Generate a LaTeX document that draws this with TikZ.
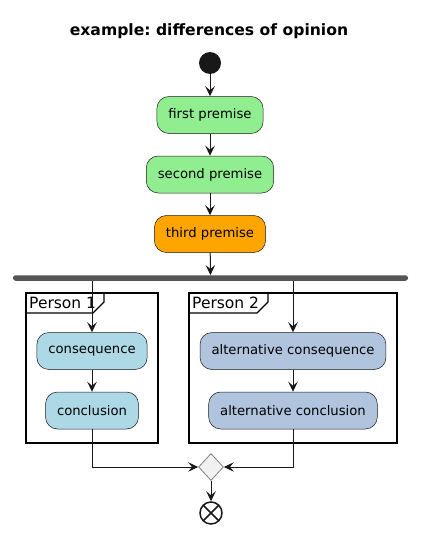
\documentclass[tikz,border=0pt]{standalone}
\usepackage{fontspec}
\setmainfont{DejaVu Sans}
\frenchspacing
\usetikzlibrary{arrows.meta, shapes.geometric}
\definecolor{premgreen}{HTML}{90EE90}
\definecolor{premorange}{HTML}{FFA500}
\definecolor{conblue}{HTML}{ADD8E6}
\definecolor{altsteel}{HTML}{B0C4DE}
\definecolor{linedark}{HTML}{181818}
\definecolor{forkgray}{HTML}{555555}
\definecolor{mergegray}{HTML}{F1F1F1}

\begin{document}
\begin{tikzpicture}[
    x=1pt, y=-1pt,
    act/.style={draw=linedark, line width=0.5pt, rounded corners=12pt,
        minimum height=37pt, inner xsep=11.5pt, font=\fontsize{13.2}{15}\selectfont},
    flow/.style={draw=linedark, line width=1pt, -{Stealth[length=10pt, width=9.5pt, inset=4pt]}},
    frame/.style={draw=black, line width=1.3pt},
    plabel/.style={anchor=west, inner sep=0pt, font=\fontsize{15.5}{18}\selectfont}
]

% 1. Canvas and title
\useasboundingbox (0,0) rectangle (420,535);
\node[font=\bfseries\fontsize{15.6}{18}\selectfont] (title) at (209,31) {example: differences of opinion};

% 2. Start point and the premises
\node[circle, fill=linedark, minimum size=22pt, inner sep=0pt] (start) at (210,63) {};
\node[act, fill=premgreen] (first) at (210,115) {first premise};
\node[act, fill=premgreen] (second) at (210,174.5) {second premise};
\node[act, fill=premorange] (third) at (210,234) {third premise};

% 3. Fork bar
\node[fill=forkgray, rounded corners=2.5pt, minimum width=395pt, minimum height=5.5pt, inner sep=0pt] (bar) at (210.5,278) {};

% 4. Partitions
\draw[frame] (26,293) rectangle (158,443);
\draw[frame] (26,313) -- (93,313) -- (104,302) -- (104,293);
\node[plabel] (lblone) at (29,303) {Person 1};

\draw[frame] (189,293) rectangle (397,443);
\draw[frame] (189,313) -- (257,313) -- (268,302) -- (268,293);
\node[plabel] (lbltwo) at (192,303) {Person 2};

% 5. The two branches
\node[act, fill=conblue] (cons) at (92,351) {consequence};
\node[act, fill=conblue] (concl) at (92,410.5) {conclusion};
\node[act, fill=altsteel] (altcons) at (293,351) {alternative consequence};
\node[act, fill=altsteel] (altconcl) at (293,410.5) {alternative conclusion};

% 6. Merge and end point
\node[diamond, draw=gray, fill=mergegray, line width=0.8pt, minimum width=25pt, minimum height=27pt, inner sep=0pt] (merge) at (211,467) {};
\node[circle, draw=linedark, line width=1.5pt, minimum size=22pt, inner sep=0pt,
    path picture={\draw[linedark, line width=1.5pt]
        (path picture bounding box.south west) -- (path picture bounding box.north east)
        (path picture bounding box.north west) -- (path picture bounding box.south east);}] (stop) at (211,513) {};

% 7. Connectors
\draw[flow] (start) -- (first);
\draw[flow] (first) -- (second);
\draw[flow] (second) -- (third);
\draw[flow] (third) -- (bar);
\draw[flow] (bar.south -| cons) -- (cons);
\draw[flow] (bar.south -| altcons) -- (altcons);
\draw[flow] (cons) -- (concl);
\draw[flow] (altcons) -- (altconcl);
\draw[flow] (concl) |- (merge);
\draw[flow] (altconcl) |- (merge);
\draw[flow] (merge) -- (stop);

\end{tikzpicture}
\end{document}
